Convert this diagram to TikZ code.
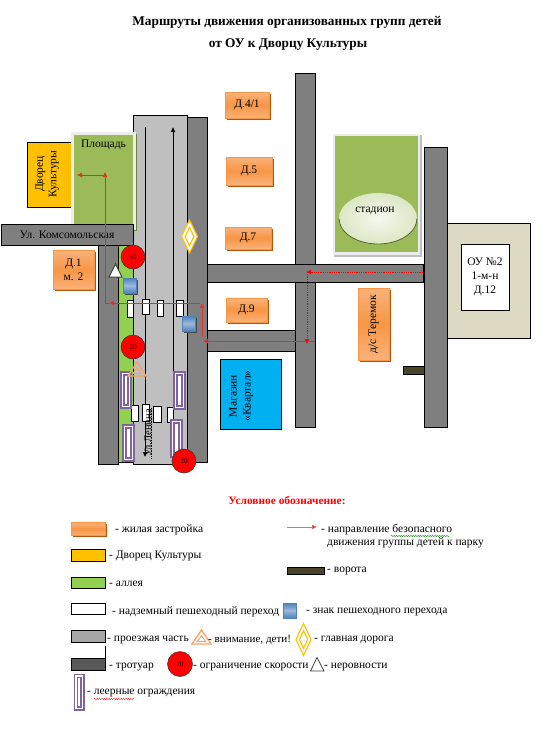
\documentclass[tikz,border=0pt]{standalone}
\usepackage{fontspec}
\setmainfont{Liberation Serif}
\usetikzlibrary{arrows.meta,decorations.pathmorphing}
\definecolor{walk}{HTML}{7F7F7F}
\definecolor{road}{HTML}{BFBFBF}
\definecolor{alley}{HTML}{92D050}
\definecolor{park}{HTML}{9BBB59}
\definecolor{dk}{HTML}{FFC000}
\definecolor{beigefill}{HTML}{DDD9C3}
\definecolor{houseE}{HTML}{F9B27A}
\definecolor{houseM}{HTML}{F79646}
\definecolor{houseS}{HTML}{B65708}
\definecolor{signB}{HTML}{4F81BD}
\definecolor{signL}{HTML}{9DB9DC}
\definecolor{fence}{HTML}{8064A2}
\definecolor{gatecol}{HTML}{4A452A}
\definecolor{route}{HTML}{E0302A}
\definecolor{warn}{HTML}{F4A46A}
\definecolor{shop}{HTML}{00B0F0}
\tikzset{
 every node/.style={font=\fontsize{11.5}{13}\selectfont,inner sep=0pt},
 walkway/.style={draw=black,line width=.8pt,fill=walk},
 roadway/.style={draw=black,line width=.8pt,fill=road},
 house/.style={draw=houseM,line width=.7pt,top color=houseE,bottom color=houseE,middle color=houseM,align=center},
 lane/.style={line width=.7pt,black},
 crossing/.style={draw=black,line width=.7pt,fill=white},
 limit/.style={circle,draw=black!80,line width=.5pt,fill=red,minimum size=24pt,font=\fontsize{7}{8}\selectfont},
 bluesign/.style={draw=signB,line width=.6pt,top color=signB,bottom color=signB,middle color=signL},
 routeline/.style={route,line width=.7pt},
 routedot/.style={red,line width=.8pt,dash pattern=on .9pt off .9pt},
 tip/.style={-{Latex[length=5pt,width=5pt]}},
 lbl/.style={anchor=west,yshift=-1pt,font=\fontsize{11.5}{13}\selectfont},
 fenceline/.style={draw=fence,line width=1.2pt,fill=white},
 leg/.style={draw=black,line width=.8pt},
 squiggle/.style={line width=.4pt,decorate,decoration={snake,amplitude=.6pt,segment length=2.4pt}},
 headline/.style={yshift=-1pt,font=\bfseries\fontsize{13.3}{15}\selectfont},
}
\newcommand{\castbox}[5]{\fill[#5] (#1-#3/2+1.8,#2-#4/2+1.8) rectangle (#1+#3/2+1.8,#2+#4/2+1.8);}
\newcommand{\fencebox}[4]{%
 \draw[fenceline] (#1,#2) rectangle (#3,#4);
 \draw[fenceline] (#1+3,#2+3) rectangle (#3-3,#4-3);}
\newcommand{\diamondsign}[4]{%
 \draw[dk,line width=1.1pt,fill=white] (#1-#3,#2)--(#1,#2-#4)--(#1+#3,#2)--(#1,#2+#4)--cycle;
 \draw[dk,line width=1.1pt] (#1-#3*0.55,#2)--(#1,#2-#4*0.55)--(#1+#3*0.55,#2)--(#1,#2+#4*0.55)--cycle;}
\newcommand{\warnsign}[4]{%
 \draw[warn,line width=1.3pt] (#1,#2)--(#3,#4)--(2*#1-#3,#4)--cycle;
 \draw[warn,line width=1pt] (#1,#2+#4*0.42-#2*0.42)--(#1+#3*0.45-#1*0.45,#4-2.5)--(#1-#3*0.45+#1*0.45,#4-2.5)--cycle;}
\begin{document}
\begin{tikzpicture}[x=1pt,y=-1pt]
\useasboundingbox (0,0) rectangle (552,731);
% title
\node[headline] (t1) at (287,21) {Маршруты движения организованных групп детей};
\node[headline] (t2) at (288,43.5) {от ОУ к Дворцу Культуры};
% east streets
\draw[walkway] (295,73) rectangle (315,427);
\draw[walkway] (424,147) rectangle (447,427);
\draw[walkway] (207,264) rectangle (423,282);
\draw[walkway] (207,330) rectangle (295,351);
% school
\draw[draw=black,line width=.8pt,fill=beigefill] (447,223) rectangle (530,338);
\node[draw=black,line width=.8pt,fill=white,minimum width=48pt,minimum height=66pt,align=center,font=\fontsize{11.5}{13.7}\selectfont] (school) at (485,277) {ОУ №2\\1-м-н\\Д.12};
% stadium
\fill[black!25] (334,135) rectangle (422,257);
\draw[draw=white!93!black,line width=2.5pt,fill=park] (334,135) rectangle (419,253.5);
\shade[inner color=white!90!park,outer color=white!65!park,draw=none] (378,218.5) ellipse [x radius=39,y radius=25.5];
\draw[black!45!park,line width=.8pt] (339,218.5) arc[start angle=180,end angle=360,x radius=39,y radius=-25.5];
\node (stadium) at (375,211) {стадион};
% main road
\draw[walkway] (187,117) rectangle (207,462);
\draw[walkway] (98,240) rectangle (118,464);
\draw[draw=black,line width=.8pt,fill=alley] (118,240) rectangle (133,462);
\draw[roadway] (133,115) rectangle (187,464);
\draw[lane,-{Latex[length=5pt,width=5pt]}] (145,127) -- (145,457);
\draw[lane,-{Latex[length=5pt,width=5pt]}] (173,464) -- (173,127);
% square
\fill[black!30!park] (73,134) rectangle (137,231);
\draw[draw=white!93!black,line width=2.5pt,fill=park] (72.5,133.5) rectangle (134.5,228.5);
\node (square) at (103.5,145) {Площадь};
\node[draw=black,line width=.8pt,fill=dk,minimum width=44pt,minimum height=65pt,anchor=north west] (dkbox) at (27,142) {};
\fill[white!93!black] (71,132) rectangle (73.5,230);
\node[rotate=90,align=center,font=\fontsize{11.5}{13.5}\selectfont] (dklabel) at (47,174) {Дворец\\Культуры};
% Komsomolskaya
\node[draw=black,line width=.8pt,fill=walk,minimum width=132pt,minimum height=21pt] (komsomol) at (67,234.5) {Ул. Комсомольская};
% houses
\castbox{247}{105}{44}{26}{houseS}
\node[house,minimum width=44pt,minimum height=26pt] (d41) at (247,105) {Д.4/1};
\castbox{249}{171}{46}{28}{houseS}
\node[house,minimum width=46pt,minimum height=28pt] (d5) at (249,171) {Д.5};
\castbox{248}{238}{46}{22}{houseS}
\node[house,minimum width=46pt,minimum height=22pt] (d7) at (248,238) {Д.7};
\castbox{246.5}{310}{41}{24}{houseS}
\node[house,minimum width=41pt,minimum height=24pt] (d9) at (246.5,310) {Д.9};
\castbox{73.5}{270}{41}{39}{houseS}
\node[house,minimum width=41pt,minimum height=39pt,font=\fontsize{11.5}{14}\selectfont] (d1) at (73.5,270) {Д.1\\м. 2};
\castbox{373.5}{324}{31}{72}{houseS}
\node[house,minimum width=31pt,minimum height=72pt] (teremok) at (373.5,324) {};
\node[rotate=90] (teremoklabel) at (373.5,324) {д/с  Теремок};
% shop, gate
\node[draw=black,line width=.8pt,fill=shop,minimum width=61pt,minimum height=70pt] (shopbox) at (250.5,394) {};
\node[rotate=90,align=center,font=\fontsize{11.5}{14}\selectfont] (shoplabel) at (241,396) {Магазин\\«Квартал»};
\draw[draw=black,line width=.8pt,fill=gatecol] (403,366) rectangle (424,374);
% crossings
\draw[crossing] (127,300) rectangle (133,317);
\draw[crossing] (142,299) rectangle (149,314);
\draw[crossing] (157,300) rectangle (163,316);
\draw[crossing] (176,300) rectangle (183,316);
\draw[crossing] (131,405) rectangle (138,421);
\draw[crossing] (142,404) rectangle (149,421);
\draw[crossing] (153,406) rectangle (161,422);
\draw[crossing] (167,407) rectangle (173,422);
% fences
\fencebox{121}{372}{131}{408}
\fencebox{123}{425}{134}{461}
\fencebox{174}{372}{185}{409}
\fencebox{171}{420}{182}{457}
% street name
\node[rotate=90,font=\fontsize{10.5}{12}\selectfont] (lenin) at (148,433) {Ул.Ленина};
\draw[blue!50!black,line width=.6pt,dash pattern=on .8pt off .8pt] (151.5,408) -- (151.5,458);
% signs
\diamondsign{189.5}{236.5}{8}{16.5}
\node[limit] (s40) at (133,257) {40};
\node[limit] (s20a) at (133,347) {20};
\node[limit] (s20b) at (184,461) {20};
\draw[draw=black!75,line width=1pt,fill=white] (115.5,264) -- (122,277) -- (109,277) -- cycle;
\warnsign{137}{362}{146}{376}
\castbox{129.5}{285.5}{13}{15}{black!70}
\node[bluesign,minimum width=13pt,minimum height=15pt] (b1) at (129.5,285.5) {};
\castbox{188.5}{323.5}{13}{15}{black!70}
\node[bluesign,minimum width=13pt,minimum height=15pt] (b2) at (188.5,323.5) {};
% routes
\draw[routeline,tip] (105,303) -- (105,172);
\draw[routeline,tip] (105,175) -- (77,175);
\draw[routeline,tip] (200,303) -- (109,303);
\draw[routeline] (109,303) -- (105,303);
\draw[routeline,tip] (202,337) -- (202,303);
\draw[routeline,tip] (315,341) -- (203,341);
\draw[routedot,tip] (423,272) -- (306,272);
\draw[routedot,tip] (307,272) -- (307,344);
% legend
\node[font=\bfseries\fontsize{11.4}{13}\selectfont,text=red,yshift=-1pt] (legend) at (287,499) {Условное обозначение:};
\castbox{88}{529}{34}{13}{houseS}
\node[house,minimum width=34pt,minimum height=13pt] (k1) at (88,529) {};
\node[lbl] at (115,529) {- жилая застройка};
\draw[leg,fill=dk] (71,549.5) rectangle (105.5,561);
\node[lbl] at (109,555) {- Дворец Культуры};
\draw[leg,fill=alley] (71,577.5) rectangle (105.5,588);
\node[lbl] at (109,583) {- аллея};
\draw[leg,fill=white] (71,603.5) rectangle (105.5,614);
\node[lbl] at (112,611) {- надземный  пешеходный переход};
\node[bluesign,minimum width=13pt,minimum height=15pt] (k2) at (289.5,610.5) {};
\node[lbl] at (306,611) {- знак пешеходного перехода};
\draw[leg,fill=black!35] (71,630.5) rectangle (105.5,642.5);
\node[lbl] at (107,639) {- проезжая  часть};
\warnsign{201.5}{630}{211}{644}
\node[lbl,font=\fontsize{11.1}{13}\selectfont] at (208,639) {- внимание, дети!};
\diamondsign{303.5}{639.5}{7.5}{16}
\node[lbl] at (314,639) {- главная дорога};
\draw[black,line width=1.3pt] (105.5,646) -- (105.5,660);
\draw[leg,fill=black!65] (71,658.5) rectangle (105.5,670);
\node[lbl] at (109,666) {- тротуар};
\node[limit,minimum size=25pt] (k3) at (180,664) {20};
\node[lbl] at (193,666) {- ограничение скорости};
\draw[draw=black!75,line width=.8pt] (317,657.5) -- (324,671) -- (310.5,671) -- cycle;
\node[lbl] at (324,666) {- неровности};
\draw[draw=fence,line width=1.2pt] (74.5,674.5) rectangle (84,710);
\draw[draw=fence,line width=1.2pt] (77.5,677.5) rectangle (81,707);
\node[lbl] at (87,692) {- леерные ограждения};
\draw[red,squiggle] (94,699) -- (134,699);
\coordinate (a1) at (287,527);
\coordinate (a2) at (317,527);
\draw[route!70!white,line width=.7pt,-{Latex[length=5pt,width=5pt,fill=red]}] (a1) -- (a2);
\node[lbl] at (321,529) {- направление безопасного};
\node[lbl] at (327,542) {движения группы детей к парку};
\draw[green!50!black,squiggle] (391,536) -- (450,536);
\draw[leg,fill=gatecol] (287.5,567) rectangle (324.5,574.5);
\node[lbl] at (327,570) {- ворота};
\end{tikzpicture}
\end{document}
